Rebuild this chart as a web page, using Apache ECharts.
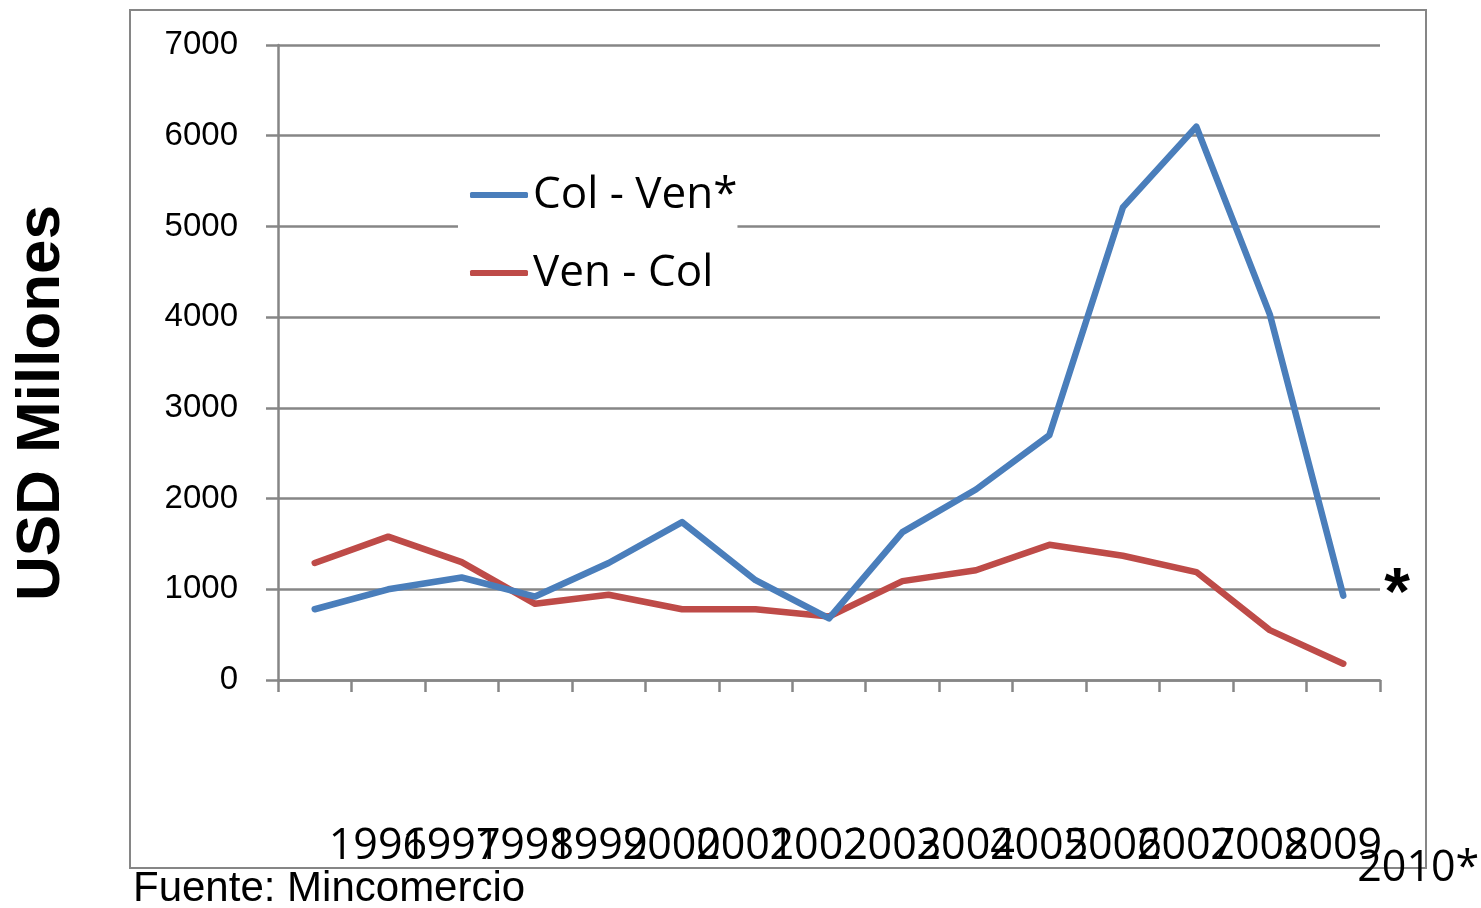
<!DOCTYPE html>
<html>
<head>
<meta charset="utf-8">
<script src="https://cdn.jsdelivr.net/npm/echarts@6/dist/echarts.min.js"></script>
<style>
  html, body { margin: 0; padding: 0; background: #fff; }
  #chart { width: 1481px; height: 908px; }
</style>
</head>
<body>
<div id="chart"></div>
<script>
const years = ['1996','1997','1998','1999','2000','2001','2002','2003','2004','2005','2006','2007','2008','2009','2010*'];
const colVen = [780, 1000, 1130, 920, 1290, 1740, 1100, 680, 1630, 2100, 2700, 5210, 6100, 4030, 930];
const venCol = [1290, 1580, 1300, 840, 940, 780, 780, 700, 1090, 1210, 1490, 1370, 1190, 550, 180];
const yTicks = [0, 1000, 2000, 3000, 4000, 5000, 6000, 7000];
const seriesNames = ['Col - Ven*', 'Ven - Col'];
const yTitle = 'USD Millones';
const sourceNote = 'Fuente: Mincomercio';

const gray = '#868686';
const blue = '#4A7EBB';
const red = '#BE4B48';

const chart = echarts.init(document.getElementById('chart'), null, { renderer: 'canvas' });
chart.setOption({
  animation: false,
  backgroundColor: '#ffffff',
  grid: { left: 278, right: 101, top: 45, bottom: 228, containLabel: false, outerBoundsMode: 'none' },
  legend: {
    orient: 'vertical',
    left: 458,
    top: 165,
    padding: [6, 0, 6, 12],
    backgroundColor: '#ffffff',
    icon: 'roundRect',
    itemWidth: 58,
    itemHeight: 6,
    itemGap: 30,
    textStyle: { fontFamily: 'Open Sans', fontSize: 44, color: '#000', lineHeight: 48 },
    data: seriesNames
  },
  xAxis: {
    type: 'category',
    data: years,
    boundaryGap: true,
    axisLine: { show: true, lineStyle: { color: gray, width: 2.5 } },
    axisTick: { show: true, length: 12, lineStyle: { color: gray, width: 2.5 } },
    axisLabel: {
      interval: 0,
      margin: 145,
      align: 'left',
      padding: [0, 0, 0, 14],
      color: '#000',
      fontFamily: 'Open Sans',
      fontSize: 43,
      formatter: function (v) { return v === '2010*' ? '{s|' + v + '}' : v; },
      rich: { s: { fontFamily: 'Open Sans', fontSize: 43, color: '#000', lineHeight: 87 } }
    },
    splitLine: { show: false }
  },
  yAxis: {
    type: 'value',
    min: yTicks[0],
    max: yTicks[yTicks.length - 1],
    interval: 1000,
    axisLine: { show: true, lineStyle: { color: gray, width: 2.5 } },
    axisTick: { show: true, length: 12, lineStyle: { color: gray, width: 2.5 } },
    axisLabel: { margin: 40, color: '#000', fontFamily: 'Liberation Sans', fontSize: 33, formatter: function (v) { return String(v); } },
    splitLine: { show: true, lineStyle: { color: gray, width: 2.5 } }
  },
  series: [
    {
      name: seriesNames[0], type: 'line', data: colVen, symbol: 'none', z: 3,
      itemStyle: { color: blue },
      lineStyle: { color: blue, width: 6.5, cap: 'round', join: 'round' }
    },
    {
      name: seriesNames[1], type: 'line', data: venCol, symbol: 'none', z: 2,
      itemStyle: { color: red },
      lineStyle: { color: red, width: 6.5, cap: 'round', join: 'round' }
    }
  ],
  graphic: [
    {
      type: 'rect', z: -1, silent: true,
      shape: { x: 130, y: 10, width: 1296, height: 858 },
      style: { fill: 'none', stroke: gray, lineWidth: 2 }
    },
    {
      type: 'text', x: 42, y: 403, rotation: Math.PI / 2,
      style: { text: yTitle, fontFamily: 'Liberation Sans', fontWeight: 'bold', fontSize: 62, fill: '#000', align: 'center', verticalAlign: 'middle' }
    },
    {
      type: 'text', x: 133, y: 889,
      style: { text: sourceNote, fontFamily: 'Liberation Sans', fontSize: 42, fill: '#000', align: 'left', verticalAlign: 'middle' }
    },
    {
      type: 'text', x: 1397, y: 596,
      style: { text: '*', fontFamily: 'Liberation Sans', fontWeight: 'bold', fontSize: 66, fill: '#000', align: 'center', verticalAlign: 'middle' }
    }
  ]
});
</script>
</body>
</html>
